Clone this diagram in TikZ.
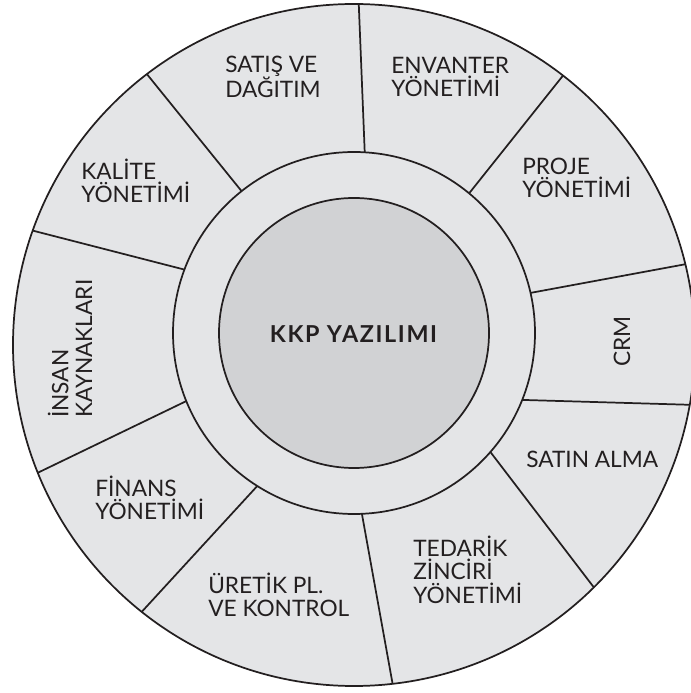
\documentclass[tikz,border=0pt]{standalone}
\usepackage{fontspec}
\setmainfont{Lato}
\usepackage{xcolor}
\usepackage{tikz}
\usetikzlibrary{calc}
\definecolor{ringgray}{HTML}{E4E5E7}
\definecolor{hubgray}{HTML}{D1D2D4}
\definecolor{inkline}{HTML}{231F20}
\tikzset{
  rim/.style={line width=1.3pt,draw=inkline,fill=ringgray},
  spoke/.style={line width=1.3pt,draw=inkline},
  lab/.style={inner sep=0pt,align=left,anchor=base west,text=inkline,
    font=\fontsize{17}{17.8}\selectfont}
}
\begin{document}
\begin{tikzpicture}[x=0.75pt,y=0.75pt]
\useasboundingbox (0,0) rectangle (691,693);
\coordinate (O) at (354,348);
\coordinate (C) at (354,360);
\draw[rim] (O) circle (341);
\foreach \a/\b in {86.6/89.2,50.5/52.2,12.8/13.7,-21.7/-10.1,-41.1/-45.3,
  -87.5/-83.5,-122.3/-128.5,-157.9/-158,159.5/160.4,128.4/127.4}
  \draw[spoke] ([shift={(\a:181)}]C) -- ([shift={(\b:341)}]O);
\draw[rim] (C) circle (181);
\draw[rim,fill=hubgray] (C) circle (135);
\node[lab,anchor=base,font=\fontsize{17.5}{18}\bfseries\addfontfeatures{LetterSpace=7}] (hub) at (353.5,350) {KKP YAZILIMI};
\node[lab] (satis) at (225,595) {SATIŞ VE\\DAĞITIM};
\node[lab] (envanter) at (391,596) {ENVANTER\\YÖNETİMİ};
\node[lab] (proje) at (522,495) {PROJE\\YÖNETİMİ};
\node[lab,rotate=90] (crm) at (630,326) {CRM};
\node[lab] (satin) at (526,225) {SATIN ALMA};
\node[lab] (tedarik) at (413,89.5) {TEDARİK\\ZİNCİRİ\\YÖNETİMİ};
\node[lab] (uretim) at (208,76) {ÜRETİK PL.\\VE KONTROL};
\node[lab] (finans) at (95,173) {FİNANS\\YÖNETİMİ};
\node[lab,rotate=90] (insan) at (92,275) {İNSAN\\KAYNAKLARI};
\node[lab] (kalite) at (81,490) {KALİTE\\YÖNETİMİ};
\end{tikzpicture}
\end{document}
